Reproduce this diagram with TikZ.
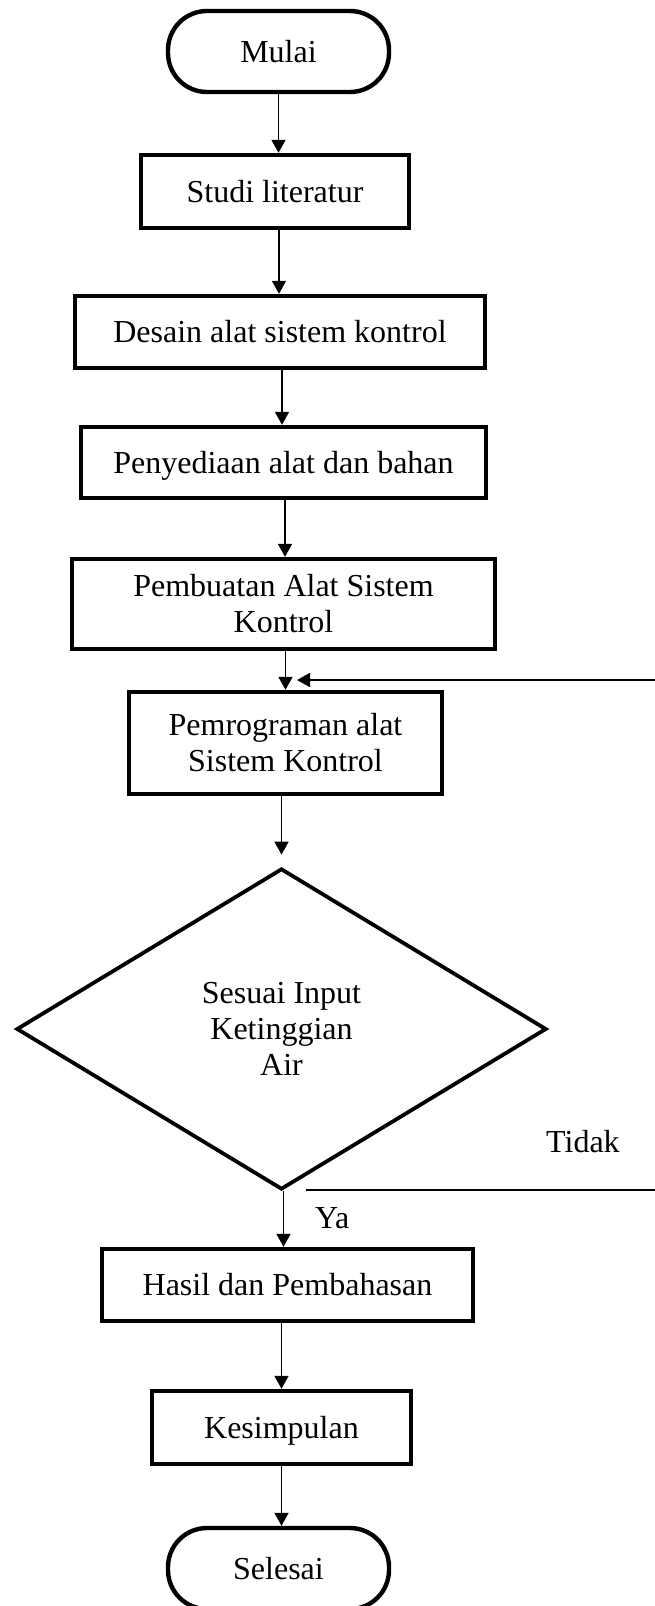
\documentclass[tikz,border=0pt]{standalone}
\usepackage{fontspec}
\setmainfont{Liberation Serif}
\usetikzlibrary{arrows.meta,shapes.geometric,calc}
\begin{document}
\begin{tikzpicture}[x=1pt,y=-1pt,
  every node/.style={font=\fontsize{32}{36}\selectfont, inner sep=0pt},
  procbox/.style={draw, rectangle, line width=4.4pt, align=center},
  oneline/.style={text height=21pt, text depth=0pt},
  termbox/.style={draw, rectangle, line width=4.4pt, rounded corners=39pt,
    minimum width=221pt, minimum height=81pt, oneline},
  decbox/.style={draw, diamond, line width=3.8pt, align=center, aspect=1.645},
  flow/.style={-{Triangle[length=13pt,width=14pt]}, line width=1.8pt},
  lbl/.style={anchor=base west}]
\useasboundingbox (0,0) rectangle (655,1606);
\clip (0,0) rectangle (655,1606);

\node[termbox] (mulai) at (278.5,51.5) {Mulai};
\node[procbox, oneline, minimum width=268pt, minimum height=73pt] (studi) at (275,191.5) {Studi literatur};
\node[procbox, oneline, minimum width=410pt, minimum height=72pt] (desain) at (280,332) {Desain alat sistem kontrol};
\node[procbox, oneline, minimum width=405pt, minimum height=71pt] (peny) at (283.5,462.5) {Penyediaan alat dan bahan};
\node[procbox, minimum width=423pt, minimum height=90pt] (pemb) at (283.5,604) {Pembuatan Alat Sistem\\Kontrol};
\node[procbox, minimum width=313pt, minimum height=102pt] (pemr) at (285.5,743) {Pemrograman alat\\Sistem Kontrol};
\node[decbox, minimum width=530pt, minimum height=321pt] (dec) at (281.5,1029) {Sesuai Input\\Ketinggian\\Air};
\node[procbox, oneline, minimum width=371pt, minimum height=72pt] (hasil) at (287.5,1285) {Hasil dan Pembahasan};
\node[procbox, oneline, minimum width=259pt, minimum height=73pt] (kes) at (281.5,1427.5) {Kesimpulan};
\node[termbox] (sel) at (278.5,1568.5) {Selesai};

\node[lbl] (tidak) at (546,1152) {Tidak};
\node[lbl] (ya) at (315,1228) {Ya};

\coordinate (tstart) at (306,1190);
\coordinate (fbtip) at (297,680);

\draw[flow] (mulai.south) -- (mulai.south |- studi.north);
\draw[flow] ([xshift=4pt]studi.south) -- ([xshift=4pt]studi.south |- desain.north);
\draw[flow] ([xshift=2pt]desain.south) -- ([xshift=2pt]desain.south |- peny.north);
\draw[flow] ([xshift=1.5pt]peny.south) -- ([xshift=1.5pt]peny.south |- pemb.north);
\draw[flow] (pemr.north |- pemb.south) -- (pemr.north);
\draw[flow] (dec.north |- pemr.south) -- ($(dec.north)-(0,12)$);
\draw[flow] ([xshift=2pt]dec.south) -- ([xshift=2pt]dec.south |- hasil.north);
\draw[flow] (kes.north |- hasil.south) -- (kes.north);
\draw[flow] (kes.south) -- (kes.south |- sel.north);
\draw[flow] (tstart) -- ++(400,0) |- (fbtip);
\end{tikzpicture}
\end{document}
